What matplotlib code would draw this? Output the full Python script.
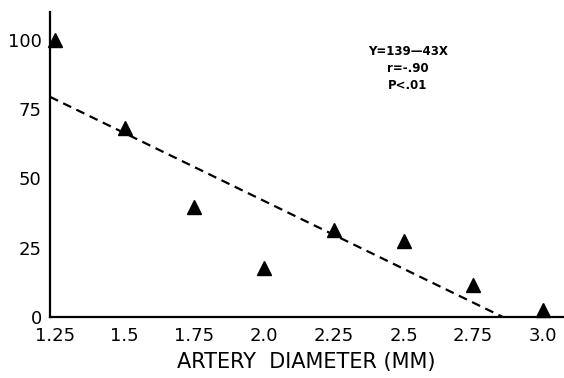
import matplotlib
matplotlib.use("Agg")
import matplotlib.pyplot as plt

# data
diameter = [1.25, 1.5, 1.75, 2.0, 2.25, 2.5, 2.75, 3.0]
value = [100, 68, 39.5, 17.5, 31.5, 27.5, 11.5, 2.5]

# regression line as drawn (endpoints)
fit_x = [1.232, 2.856]
fit_y = [79.4, 0.0]

x_ticks = [1.25, 1.5, 1.75, 2.0, 2.25, 2.5, 2.75, 3.0]
x_ticklabels = ["1.25", "1.5", "1.75", "2.0", "2.25", "2.5", "2.75", "3.0"]
y_ticks = [0, 25, 50, 75, 100]

annotation = "Y=139\u201443X\nr=-.90\nP<.01"

plt.rcParams["font.family"] = ["DejaVu Sans"]

fig = plt.figure(figsize=(5.64, 3.78), dpi=100)
ax = fig.add_axes([50 / 564, 61 / 378, 513 / 564, 305 / 378])

ax.plot(fit_x, fit_y, linestyle=(0, (4, 2.6)), color="black", linewidth=1.6,
        zorder=2)
ax.plot(diameter, value, linestyle="none", marker="^", markersize=10,
        color="black", zorder=3, clip_on=False)

ax.set_xlim(1.232, 3.072)
ax.set_ylim(0, 110)

ax.set_xticks(x_ticks)
ax.set_xticklabels(x_ticklabels)
ax.set_yticks(y_ticks)
ax.tick_params(axis="both", length=0, labelsize=13)
ax.tick_params(axis="x", pad=7)
ax.tick_params(axis="y", pad=6)

for side in ("top", "right"):
    ax.spines[side].set_visible(False)
for side in ("left", "bottom"):
    ax.spines[side].set_linewidth(1.6)

ax.set_xlabel("ARTERY  DIAMETER (MM)", fontsize=15, labelpad=5)

fig.text(408 / 564, 1 - 45 / 378, annotation, fontsize=8.5, fontweight="bold",
         ha="center", va="top", linespacing=1.4)

fig.savefig("out.png", dpi=100)
